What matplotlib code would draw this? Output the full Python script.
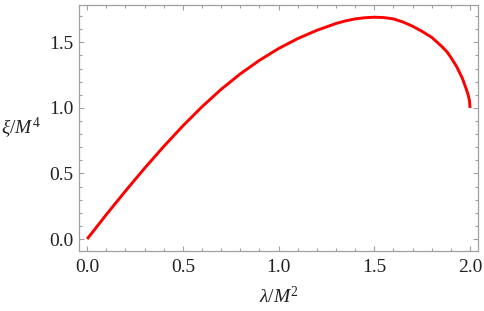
import matplotlib
matplotlib.use("Agg")
import matplotlib.pyplot as plt
from matplotlib.ticker import MultipleLocator

plt.rcParams['font.family'] = ['Liberation Serif', 'DejaVu Serif']
plt.rcParams['mathtext.fontset'] = 'custom'
plt.rcParams['mathtext.rm'] = 'Liberation Serif'
plt.rcParams['mathtext.it'] = 'Liberation Serif:italic'

# values
lam = [0.0, 0.1, 0.2, 0.3, 0.4, 0.5, 0.6, 0.7, 0.8, 0.9, 1.0, 1.1, 1.2, 1.3,
       1.35, 1.4, 1.45, 1.5, 1.55, 1.6, 1.65, 1.7, 1.75, 1.8, 1.85, 1.88, 1.9,
       1.93, 1.96, 1.98, 1.99, 1.997, 2.0]
xi = [0.0, 0.186, 0.366, 0.540, 0.706, 0.863, 1.009, 1.142, 1.260, 1.363, 1.453,
      1.529, 1.592, 1.644, 1.664, 1.679, 1.688, 1.692, 1.689, 1.679, 1.655, 1.623,
      1.583, 1.538, 1.472, 1.427, 1.385, 1.315, 1.225, 1.145, 1.10, 1.055, 1.0]
xticks = [0.0, 0.5, 1.0, 1.5, 2.0]
yticks = [0.0, 0.5, 1.0, 1.5]

fig = plt.figure(figsize=(4.85, 3.11), dpi=100)
ax = fig.add_axes([79.3 / 485, 1 - 250.7 / 311, (478.3 - 79.3) / 485, (250.7 - 5) / 311])

ax.plot(lam, xi, color='#ff0000', lw=2.1, solid_capstyle='butt', solid_joinstyle='round')

ax.set_xlim(-0.041, 2.043)
ax.set_ylim(-0.089, 1.785)
ax.set_xticks(xticks)
ax.set_yticks(yticks)
ax.set_xticklabels([f"{v:.1f}" for v in xticks])
ax.set_yticklabels([f"{v:.1f}" for v in yticks])
ax.xaxis.set_minor_locator(MultipleLocator(0.1))
ax.yaxis.set_minor_locator(MultipleLocator(0.1))

for s in ax.spines.values():
    s.set_color('#a0a0a0')
    s.set_linewidth(0.9)
ax.tick_params(which='both', direction='in', top=True, right=True, color='#a0a0a0', width=0.8)
ax.tick_params(which='major', length=3.5, labelsize=14, labelcolor='#222222')
ax.tick_params(which='minor', length=2)
ax.tick_params(axis='x', which='major', pad=6)
ax.tick_params(axis='y', which='major', pad=4)

fig.text(278.8 / 485, 1 - 297 / 311, r'$\lambda/M^2$', ha='center', va='center', fontsize=14, color='#222222')
fig.text(21 / 485, 1 - 128 / 311, r'$\xi/M^4$', ha='center', va='center', fontsize=14, color='#222222')

fig.savefig('out.png', dpi=100)
